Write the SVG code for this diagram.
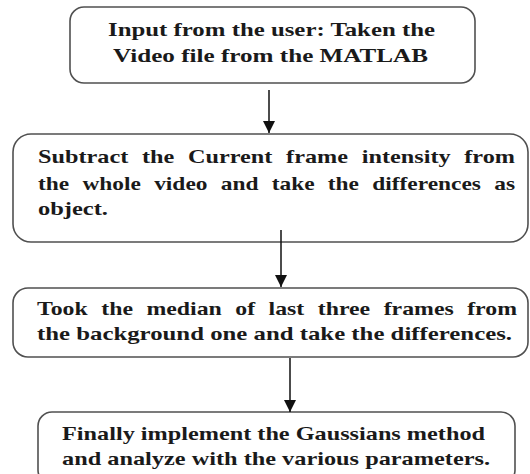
<svg xmlns="http://www.w3.org/2000/svg" width="530" height="474" viewBox="0 0 530 474">
<style>
.box{fill:#ffffff;stroke:#505050;stroke-width:1.6}
.t{font-weight:bold;font-size:19px;fill:#1a1a1a}
.c{stroke:#111;stroke-width:1.5;fill:none}
</style>
<defs>
<marker id="ah" markerWidth="14" markerHeight="12" refX="12" refY="6" orient="auto" markerUnits="userSpaceOnUse" viewBox="0 0 14 12">
<path d="M0,0 L12,6 L0,12 Z" fill="#111"/>
</marker>
</defs>
<rect width="530" height="474" fill="#ffffff"/>
<g font-family="Liberation Serif, serif">
<g id="node1">
<rect class="box" x="70" y="7" width="405" height="76" rx="14"/>
<text class="t" x="108" y="36" textLength="327" lengthAdjust="spacingAndGlyphs">Input from the user: Taken the</text>
<text class="t" x="113" y="62" textLength="315" lengthAdjust="spacingAndGlyphs">Video file from the MATLAB</text>
</g>
<g id="node2">
<rect class="box" x="13" y="134" width="515" height="108" rx="18"/>
<text class="t" x="38" y="163" textLength="477" lengthAdjust="spacingAndGlyphs" word-spacing="6">Subtract the Current frame intensity from</text>
<text class="t" x="38" y="190" textLength="477" lengthAdjust="spacingAndGlyphs" word-spacing="6">the whole video and take the differences as</text>
<text class="t" x="38" y="215" textLength="70" lengthAdjust="spacingAndGlyphs">object.</text>
</g>
<g id="node3">
<rect class="box" x="13" y="288" width="515" height="69" rx="15"/>
<text class="t" x="37" y="315" textLength="480" lengthAdjust="spacingAndGlyphs" word-spacing="6">Took the median of last three frames from</text>
<text class="t" x="37" y="340" textLength="475" lengthAdjust="spacingAndGlyphs">the background one and take the differences.</text>
</g>
<g id="node4">
<rect class="box" x="38" y="412" width="477" height="72" rx="14"/>
<text class="t" x="62" y="440" textLength="423" lengthAdjust="spacingAndGlyphs">Finally implement the Gaussians method</text>
<text class="t" x="62" y="465" textLength="428" lengthAdjust="spacingAndGlyphs">and analyze with the various parameters.</text>
</g>
</g>
<g id="connectors">
<line class="c" x1="269" y1="90" x2="269" y2="133" marker-end="url(#ah)"/>
<line class="c" x1="281" y1="230" x2="281" y2="287" marker-end="url(#ah)"/>
<line class="c" x1="290" y1="358" x2="290" y2="412" marker-end="url(#ah)"/>
</g>
</svg>
